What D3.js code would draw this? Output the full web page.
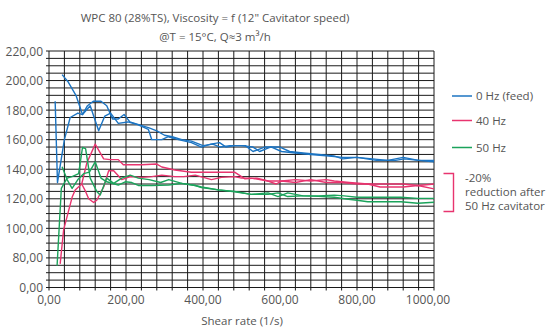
<!DOCTYPE html>
<html><head><meta charset="utf-8">
<script src="https://cdn.jsdelivr.net/npm/d3@7"></script>
<style>
html,body{margin:0;padding:0;background:#fff;}
text{font-family:"Open Sans",sans-serif;fill:#555;}
</style></head>
<body><svg id="c" width="551" height="329"></svg>
<script>
// ---- data ----
const titleLines = ["WPC 80 (28%TS), Viscosity = f (12\" Cavitator speed)", "@T = 15°C, Q≈3 m³/h"];
const xTicks = [0, 200, 400, 600, 800, 1000];
const yTicks = [0, 80, 100, 120, 140, 160, 180, 200, 220];
const seriesNames = ["0 Hz (feed)", "40 Hz", "50 Hz"];
const seriesColors = ["#1c74c2", "#e8346f", "#1ba35b"];

const blueX1 = [16,22,40,55,75,87,100,115,135,150,165,180,195,210,235,260,280,300,320,345,370,400,425,445,470,500,530,547,575,600,625,660,700,740,763,800,840,880,920,960,1000];
const blueY1 = [186,131,160,175,178,177,183,186,186,183,174,174,177,172,170,168,166,163,162,160,159,156,157,155,156,156,155,152,155,155,152,151,150,149,147,148,147,146,148,146,146];
const blueX2 = [34,50,70,87,107,129,145,160,180,205,232,258,267,293,310,336,370,396,420,443,460,482,510,530,560,578,604,640,680,720,763,800,850,900,923,960,1000];
const blueY2 = [204,199,190,177,183,166,176,178,171,172,170,167,160,160,162,160,158,155,157,158,155,156,156,152,155,155,152,151,150,149,148,148,146,146,147,146,145];

const redX1 = [29,38,51,60,68,85,98,120,142,159,180,193,241,280,293,327,370,396,440,482,509,540,569,604,640,680,720,741,780,828,860,880,920,958,1000];
const redY1 = [64,99,112,121,126,130,144,157,147,146.5,146.5,143,143,143.5,141.5,139.5,138,138,138,138,133.5,134,132,132,133,132,133,132,131,130,128,128,128,129,126.7];
const redX2 = [85,95,103,116,124,142,155,168,189,211,241,267,293,327,350,380,422,448,482,500,525,569,590,604,640,680,720,760,800,840,880,920,958,980,1000];
const redY2 = [130,125,120,117.5,119,128,139,139,133,135,134.5,135,136,135,135,136,133,134.5,135,134,134,132,130,132,131,133,131,131,130,130,130,130,129,129.5,130];

const greenX1 = [21,32,47,60,77,87,95,107,124,133,150,168,189,211,232,260,290,311,345,380,396,440,482,525,569,595,620,660,700,741,767,800,828,870,914,958,1000];
const greenY1 = [59,127,134,135,137,154.7,154,134,125,122.6,134,130.4,134,136,134,133,131,133,130.4,129,128,126,125,123,123,124,121.5,122,122,122.5,122,121,121,121,121,120.3,120.3];
const greenX2 = [34,47,60,75,90,105,120,135,150,180,198,215,232,267,311,345,380,396,440,482,525,569,595,620,660,700,741,767,800,828,870,914,958,1000];
const greenY2 = [141.6,133,127,133,137,138,145,134,131.5,129.3,131.5,131,129,129,129.3,130.4,129,127.6,126,124.8,123,124,121.5,124,122,121.6,121,120,119,118,118,118,117,117.7];

const annotationLines = ["-20%", "reduction after", "50 Hz cavitator"];
const xTitle = "Shear rate (1/s)";

// ---- chart ----
const svg = d3.select("#c");
const x = d3.scaleLinear().domain([0, 1000]).range([49, 434]);
const y = d3.scaleLinear().domain([0, 80, 220]).range([287.5, 257.9, 51]);
const fmt = v => d3.format(".2f")(v).replace(".", ",");
const FS = 11.5;

const hGrid = [20, 40, 60].concat(d3.range(0, 221, 5).filter(v => v === 0 || v >= 80));
const vGrid = d3.range(0, 1001, 40);

const g = svg.append("g");
g.selectAll("line.h").data(hGrid).join("line")
  .attr("x1", x(0) - 3).attr("x2", x(1000))
  .attr("y1", d => y(d)).attr("y2", d => y(d))
  .attr("stroke", "#1a1a1a").attr("stroke-width", 1);
g.selectAll("line.v").data(vGrid).join("line")
  .attr("x1", d => x(d)).attr("x2", d => x(d))
  .attr("y1", y(220)).attr("y2", y(0) + 3)
  .attr("stroke", "#1a1a1a").attr("stroke-width", 1);

// axis labels
svg.selectAll("text.yl").data(yTicks).join("text")
  .attr("x", 43).attr("y", d => y(d) + 4.5)
  .attr("text-anchor", "end").attr("font-size", 12)
  .text(fmt);
svg.selectAll("text.xl").data(xTicks).join("text")
  .attr("x", d => x(d) - (d === 1000 ? 6 : 0)).attr("y", 304)
  .attr("text-anchor", "middle").attr("font-size", 12)
  .text(fmt);
svg.append("text").attr("x", 242).attr("y", 325).attr("text-anchor", "middle")
  .attr("font-size", FS).text(xTitle);

// title
svg.selectAll("text.t").data(titleLines).join("text")
  .attr("x", 215).attr("y", (d, i) => 22 + i * 18.5)
  .attr("text-anchor", "middle").attr("font-size", FS)
  .text(d => d);

// lines
const line = d3.line().x(d => x(d[0])).y(d => y(d[1]));
const pairs = (xs, ys) => xs.map((v, i) => [v, ys[i]]);
const lines = [
  [pairs(blueX1, blueY1), 0], [pairs(blueX2, blueY2), 0],
  [pairs(redX1, redY1), 1], [pairs(redX2, redY2), 1],
  [pairs(greenX1, greenY1), 2], [pairs(greenX2, greenY2), 2]
];
svg.append("g").selectAll("path").data(lines).join("path")
  .attr("d", d => line(d[0])).attr("fill", "none")
  .attr("stroke", d => seriesColors[d[1]]).attr("stroke-width", 1.4)
  .attr("stroke-linejoin", "round");

// legend
const legY = [96, 120.5, 147.5];
const leg = svg.append("g").selectAll("g").data(seriesNames).join("g")
  .attr("transform", (d, i) => `translate(452,${legY[i]})`);
leg.append("line").attr("x1", 0).attr("x2", 20).attr("stroke", (d, i) => seriesColors[i]).attr("stroke-width", 1.5);
leg.append("text").attr("x", 24).attr("y", 4).attr("font-size", FS).text(d => d);

// bracket annotation
svg.append("path").attr("d", "M443.5,173.5H453.5V211.5H443.5")
  .attr("fill", "none").attr("stroke", seriesColors[1]).attr("stroke-width", 1.4);
svg.selectAll("text.a").data(annotationLines).join("text")
  .attr("x", 465).attr("y", (d, i) => 182 + i * 14)
  .attr("font-size", FS).text(d => d);
</script></body></html>
